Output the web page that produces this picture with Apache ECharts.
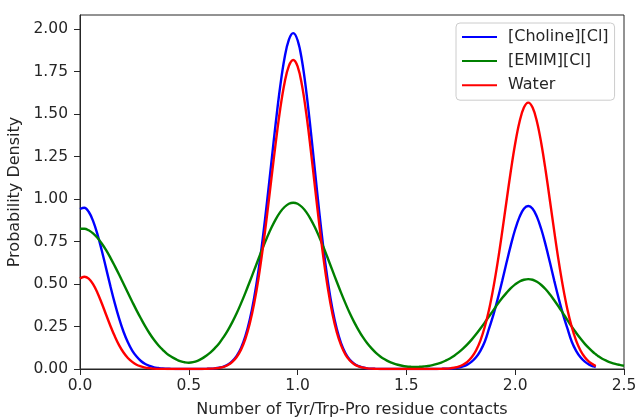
<!DOCTYPE html>
<html><head><meta charset="utf-8">
<script src="https://cdn.jsdelivr.net/npm/echarts@6/dist/echarts.min.js"></script>
<style>html,body{margin:0;padding:0;background:#fff}#c{width:636px;height:419px}</style>
</head><body><div id="c"></div>
<script>
const xValues = [0.00,0.02,0.04,0.06,0.08,0.10,0.12,0.14,0.16,0.18,0.20,0.22,0.24,0.26,0.28,0.30,0.32,0.34,0.36,0.38,
0.40,0.42,0.44,0.46,0.48,0.50,0.52,0.54,0.56,0.58,0.60,0.62,0.64,0.66,0.68,0.70,0.72,0.74,0.76,0.78,
0.80,0.82,0.84,0.86,0.88,0.90,0.92,0.94,0.96,0.98,1.00,1.02,1.04,1.06,1.08,1.10,1.12,1.14,1.16,1.18,
1.20,1.22,1.24,1.26,1.28,1.30,1.32,1.34,1.36,1.38,1.40,1.42,1.44,1.46,1.48,1.50,1.52,1.54,1.56,1.58,
1.60,1.62,1.64,1.66,1.68,1.70,1.72,1.74,1.76,1.78,1.80,1.82,1.84,1.86,1.88,1.90,1.92,1.94,1.96,1.98,
2.00,2.02,2.04,2.06,2.08,2.10,2.12,2.14,2.16,2.18,2.20,2.22,2.24,2.26,2.28,2.30,2.32,2.34,2.36,2.37,
2.38,2.40,2.42,2.44,2.46,2.48,2.50];

const choline = [0.941,0.949,0.925,0.871,0.793,0.697,0.592,0.486,0.386,0.296,0.219,0.157,0.108,0.073,0.047,0.029,0.018,0.010,0.006,0.003,
0.002,0.001,0.000,0.000,0.000,0.000,0.000,0.000,0.000,0.001,0.002,0.004,0.008,0.014,0.026,0.046,0.077,0.124,0.193,0.289,
0.417,0.577,0.770,0.989,1.222,1.453,1.662,1.830,1.938,1.976,1.934,1.815,1.632,1.407,1.162,0.919,0.697,0.507,0.353,0.236,
0.151,0.093,0.054,0.031,0.017,0.009,0.004,0.002,0.001,0.000,0.000,0.000,0.000,0.000,0.000,0.000,0.000,0.000,0.000,0.000,
0.000,0.000,0.000,0.001,0.002,0.002,0.004,0.008,0.015,0.026,0.043,0.069,0.107,0.160,0.239,0.320,0.414,0.517,0.625,0.729,
0.822,0.895,0.943,0.959,0.943,0.895,0.822,0.729,0.625,0.517,0.414,0.320,0.239,0.160,0.107,0.069,0.043,0.026,0.015,0.011,
null,null,null,null,null,null,null];

const emim = [0.825,0.825,0.816,0.798,0.772,0.738,0.699,0.654,0.605,0.554,0.501,0.448,0.396,0.345,0.297,0.251,0.209,0.172,0.140,0.113,
0.089,0.072,0.058,0.046,0.040,0.037,0.040,0.048,0.061,0.078,0.098,0.123,0.152,0.188,0.229,0.276,0.328,0.386,0.448,0.513,
0.580,0.647,0.713,0.775,0.832,0.882,0.923,0.953,0.972,0.978,0.972,0.953,0.923,0.882,0.832,0.775,0.713,0.647,0.580,0.513,
0.448,0.386,0.328,0.276,0.229,0.187,0.151,0.121,0.095,0.074,0.057,0.043,0.033,0.025,0.019,0.015,0.013,0.012,0.013,0.015,
0.018,0.023,0.030,0.038,0.049,0.062,0.078,0.098,0.120,0.145,0.173,0.204,0.238,0.273,0.310,0.346,0.383,0.417,0.448,0.476,
0.498,0.515,0.525,0.529,0.525,0.513,0.494,0.469,0.438,0.403,0.366,0.327,0.288,0.249,0.213,0.179,0.148,0.121,0.097,0.087,
0.077,0.060,0.048,0.038,0.030,0.024,0.019];

const water = [0.532,0.543,0.532,0.499,0.449,0.387,0.319,0.253,0.192,0.139,0.097,0.065,0.042,0.025,0.015,0.008,0.005,0.002,0.001,0.001,
0.000,0.000,0.000,0.000,0.000,0.000,0.000,0.000,0.000,0.001,0.002,0.004,0.007,0.013,0.024,0.042,0.071,0.114,0.178,0.266,
0.383,0.531,0.709,0.910,1.124,1.336,1.529,1.683,1.783,1.818,1.780,1.670,1.502,1.294,1.069,0.846,0.642,0.467,0.325,0.217,
0.139,0.085,0.050,0.028,0.015,0.008,0.004,0.002,0.001,0.000,0.000,0.000,0.000,0.000,0.000,0.000,0.000,0.000,0.000,0.000,
0.000,0.000,0.000,0.001,0.002,0.004,0.008,0.014,0.025,0.042,0.069,0.109,0.167,0.247,0.350,0.480,0.633,0.805,0.987,1.166,
1.327,1.455,1.538,1.567,1.538,1.455,1.327,1.166,0.987,0.805,0.633,0.480,0.350,0.247,0.167,0.109,0.069,0.042,0.025,0.017,
null,null,null,null,null,null,null];

const seriesNames = ['[Choline][Cl]', '[EMIM][Cl]', 'Water'];
const seriesColors = ['#0000ff', '#008000', '#ff0000'];
const xTicks = [0, 0.5, 1.0, 1.5, 2.0, 2.5];
const yTicks = [0, 0.25, 0.5, 0.75, 1.0, 1.25, 1.5, 1.75, 2.0];

const pair = arr => xValues.map((x, i) => [x, arr[i]]);
const seriesData = [choline, emim, water];

const FONT = 'DejaVu Sans';
const TXT = '#262626';
const chart = echarts.init(document.getElementById('c'));
chart.setOption({
  animation: false,
  grid: {left: 80, right: 12, top: 15, bottom: 50, show: true, borderColor: TXT, borderWidth: 1,
         containLabel: false, outerBoundsMode: 'none'},
  legend: {
    show: true, orient: 'vertical', left: 456, top: 23,
    itemWidth: 35, itemHeight: 14, itemGap: 8.1,
    padding: [6, 6, 7, 5],
    backgroundColor: 'rgba(255,255,255,0.8)', borderColor: '#cccccc', borderWidth: 1, borderRadius: 4,
    itemStyle: {opacity: 0},
    textStyle: {fontFamily: FONT, fontSize: 16, color: TXT, padding: [0, 0, 0, 6]},
    data: seriesNames
  },
  xAxis: {
    type: 'value', min: 0, max: 2.5, interval: 0.5,
    axisLine: {show: true, onZero: false, lineStyle: {color: TXT, width: 1}},
    axisTick: {show: true, length: 6, customValues: xTicks, lineStyle: {color: TXT, width: 1}},
    axisLabel: {customValues: xTicks, formatter: v => v.toFixed(1), color: TXT, fontFamily: FONT, fontSize: 15.5, margin: 9},
    splitLine: {show: false},
    name: 'Number of Tyr/Trp-Pro residue contacts', nameLocation: 'middle', nameGap: 33,
    nameTextStyle: {fontFamily: FONT, fontSize: 16, color: TXT}
  },
  yAxis: {
    type: 'value', min: 0, max: 2.0825,
    axisLine: {show: true, onZero: false, lineStyle: {color: TXT, width: 1}},
    axisTick: {show: true, length: 6, customValues: yTicks, lineStyle: {color: TXT, width: 1}},
    axisLabel: {customValues: yTicks, formatter: v => v.toFixed(2), color: TXT, fontFamily: FONT, fontSize: 15.5, margin: 12},
    splitLine: {show: false},
    name: 'Probability Density', nameLocation: 'middle', nameGap: 52,
    nameTextStyle: {fontFamily: FONT, fontSize: 16, color: TXT}
  },
  series: seriesNames.map((n, i) => ({
    type: 'line', name: n, data: pair(seriesData[i]),
    symbol: 'none', showSymbol: false, smooth: 0.4, connectNulls: false,
    lineStyle: {color: seriesColors[i], width: 2.4},
    itemStyle: {color: seriesColors[i]},
    z: 2 + i
  }))
});
</script></body></html>
